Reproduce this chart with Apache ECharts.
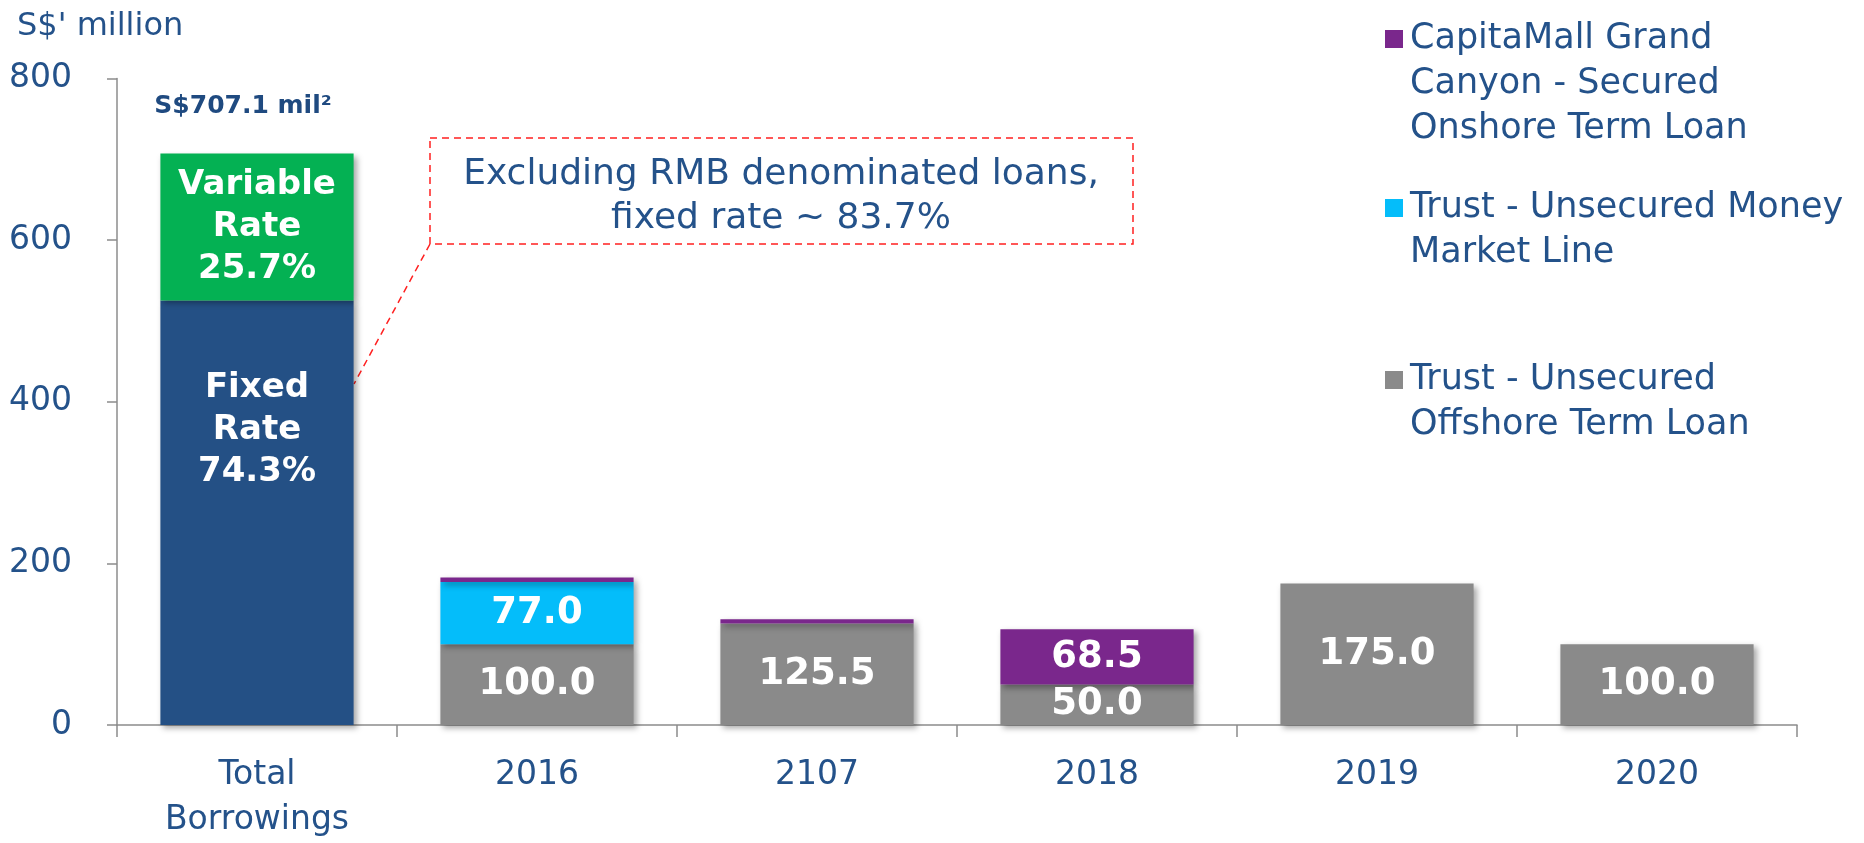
<!DOCTYPE html>
<html>
<head>
<meta charset="utf-8">
<script src="https://cdn.jsdelivr.net/npm/echarts@6/dist/echarts.min.js"></script>
<style>
  html, body { margin: 0; padding: 0; background: #fff; }
  #chart { width: 1864px; height: 843px; }
</style>
</head>
<body>
<div id="chart"></div>
<script>
// values (S$ million)
var categories = ['Total\nBorrowings', '2016', '2107', '2018', '2019', '2020'];
var fixedRate = [525.4, '-', '-', '-', '-', '-'];
var variableRate = [181.7, '-', '-', '-', '-', '-'];
var offshoreLoan = ['-', 100.0, 125.5, 50.0, 175.0, 100.0];
var moneyMarket = ['-', 77.0, '-', '-', '-', '-'];
var onshoreLoan = ['-', 5.5, 5.5, 68.5, '-', '-'];
var yTicks = [0, 200, 400, 600, 800];

var legendNames = [
  'CapitaMall Grand\nCanyon - Secured\nOnshore Term Loan',
  'Trust - Unsecured Money\nMarket Line',
  'Trust - Unsecured\nOffshore Term Loan'
];

var blueText = '#24528a';
var font = 'DejaVu Sans';
var total = fixedRate[0] + variableRate[0];

var shadow = {
  shadowColor: 'rgba(0,0,0,0.35)',
  shadowBlur: 6,
  shadowOffsetX: 3,
  shadowOffsetY: 3
};

function barLabel(extra) {
  var base = {
    show: true,
    position: 'inside',
    color: '#fff',
    fontFamily: font,
    fontWeight: 'bold',
    fontSize: 34,
    lineHeight: 42
  };
  return Object.assign(base, extra || {});
}

function fmtNum(p) {
  return p.value < 20 ? '' : Number(p.value).toFixed(1);
}

var LH = 45;
function legendFor(name, iconY) {
  // blank lines before the name keep the icon level with the first line
  var lines = name.split('\n').length;
  var blank = new Array(lines).join('\n');
  var boxH = (2 * lines - 1) * LH;
  return {
    data: [name],
    orient: 'vertical',
    left: 1380,
    top: iconY - boxH / 2,
    itemWidth: 18,
    itemHeight: 18,
    icon: 'rect',
    selectedMode: false,
    formatter: function (n) { return blank + n; },
    textStyle: {
      color: blueText,
      fontFamily: font,
      fontSize: 35,
      lineHeight: LH,
      padding: [0, 0, 0, 2]
    }
  };
}

var chart = echarts.init(document.getElementById('chart'));
chart.setOption({
  animation: false,
  textStyle: { fontFamily: font },
  title: {
    text: "S$' million",
    left: 12,
    top: 6,
    textStyle: { color: blueText, fontFamily: font, fontSize: 32, fontWeight: 'normal' }
  },
  legend: [
    legendFor(legendNames[0], 34),
    legendFor(legendNames[1], 203),
    legendFor(legendNames[2], 375)
  ],
  grid: { left: 117, right: 67, top: 78.5, bottom: 118, containLabel: false },
  xAxis: {
    type: 'category',
    data: categories,
    axisLine: { lineStyle: { color: '#8c8c8c', width: 1.5 } },
    axisTick: { show: true, length: 12, lineStyle: { color: '#8c8c8c', width: 1.5 } },
    axisLabel: { color: blueText, fontFamily: font, fontSize: 33, lineHeight: 45, margin: 28 }
  },
  yAxis: {
    type: 'value',
    min: yTicks[0],
    max: yTicks[yTicks.length - 1],
    interval: yTicks[1] - yTicks[0],
    splitLine: { show: false },
    axisLine: { show: true, lineStyle: { color: '#8c8c8c', width: 1.5 } },
    axisTick: { show: true, length: 10, lineStyle: { color: '#8c8c8c', width: 1.5 } },
    axisLabel: { color: blueText, fontFamily: font, fontSize: 33, margin: 45 }
  },
  graphic: [
    {
      type: 'rect',
      shape: { x: 430, y: 138, width: 703, height: 106 },
      style: { fill: 'none', stroke: '#ff2020', lineWidth: 1.5, lineDash: [7, 5] }
    },
    {
      type: 'line',
      shape: { x1: 430, y1: 244, x2: 354, y2: 384 },
      style: { stroke: '#ff2020', lineWidth: 1.5, lineDash: [7, 5] }
    },
    {
      type: 'text',
      x: 781,
      y: 197,
      style: {
        text: 'Excluding RMB denominated loans,\nfixed rate ~ 83.7%',
        fill: blueText,
        font: '36px "DejaVu Sans"',
        lineHeight: 44,
        align: 'center',
        verticalAlign: 'middle'
      }
    }
  ],
  series: [
    {
      name: 'Fixed Rate',
      type: 'bar',
      stack: 'a',
      barCategoryGap: '31%',
      data: fixedRate,
      itemStyle: Object.assign({ color: '#245085' }, shadow),
      label: barLabel({
        offset: [0, -83],
        formatter: function (p) {
          return 'Fixed\nRate\n' + (p.value / total * 100).toFixed(1) + '%';
        }
      })
    },
    {
      name: 'Variable Rate',
      type: 'bar',
      stack: 'a',
      data: variableRate,
      itemStyle: Object.assign({ color: '#04b153' }, shadow),
      label: barLabel({
        formatter: function (p) {
          return 'Variable\nRate\n' + (p.value / total * 100).toFixed(1) + '%';
        }
      }),
      markPoint: {
        symbol: 'rect',
        symbolSize: 0,
        data: [{ coord: [0, total] }],
        label: {
          show: true,
          offset: [-14, -47],
          color: '#1f4a80',
          fontFamily: font,
          fontWeight: 'bold',
          fontSize: 25,
          formatter: function () { return 'S$' + total.toFixed(1) + ' mil\u00b2'; }
        }
      }
    },
    {
      name: legendNames[2],
      type: 'bar',
      stack: 'a',
      data: offshoreLoan,
      itemStyle: Object.assign({ color: '#8a8a8a' }, shadow),
      label: barLabel({ fontSize: 37, formatter: fmtNum })
    },
    {
      name: legendNames[1],
      type: 'bar',
      stack: 'a',
      data: moneyMarket,
      itemStyle: Object.assign({ color: '#04bdfa' }, shadow),
      label: barLabel({ fontSize: 37, formatter: fmtNum })
    },
    {
      name: legendNames[0],
      type: 'bar',
      stack: 'a',
      data: onshoreLoan,
      itemStyle: Object.assign({ color: '#7a278c' }, shadow),
      label: barLabel({ fontSize: 37, formatter: fmtNum })
    }
  ]
});
</script>
</body>
</html>
